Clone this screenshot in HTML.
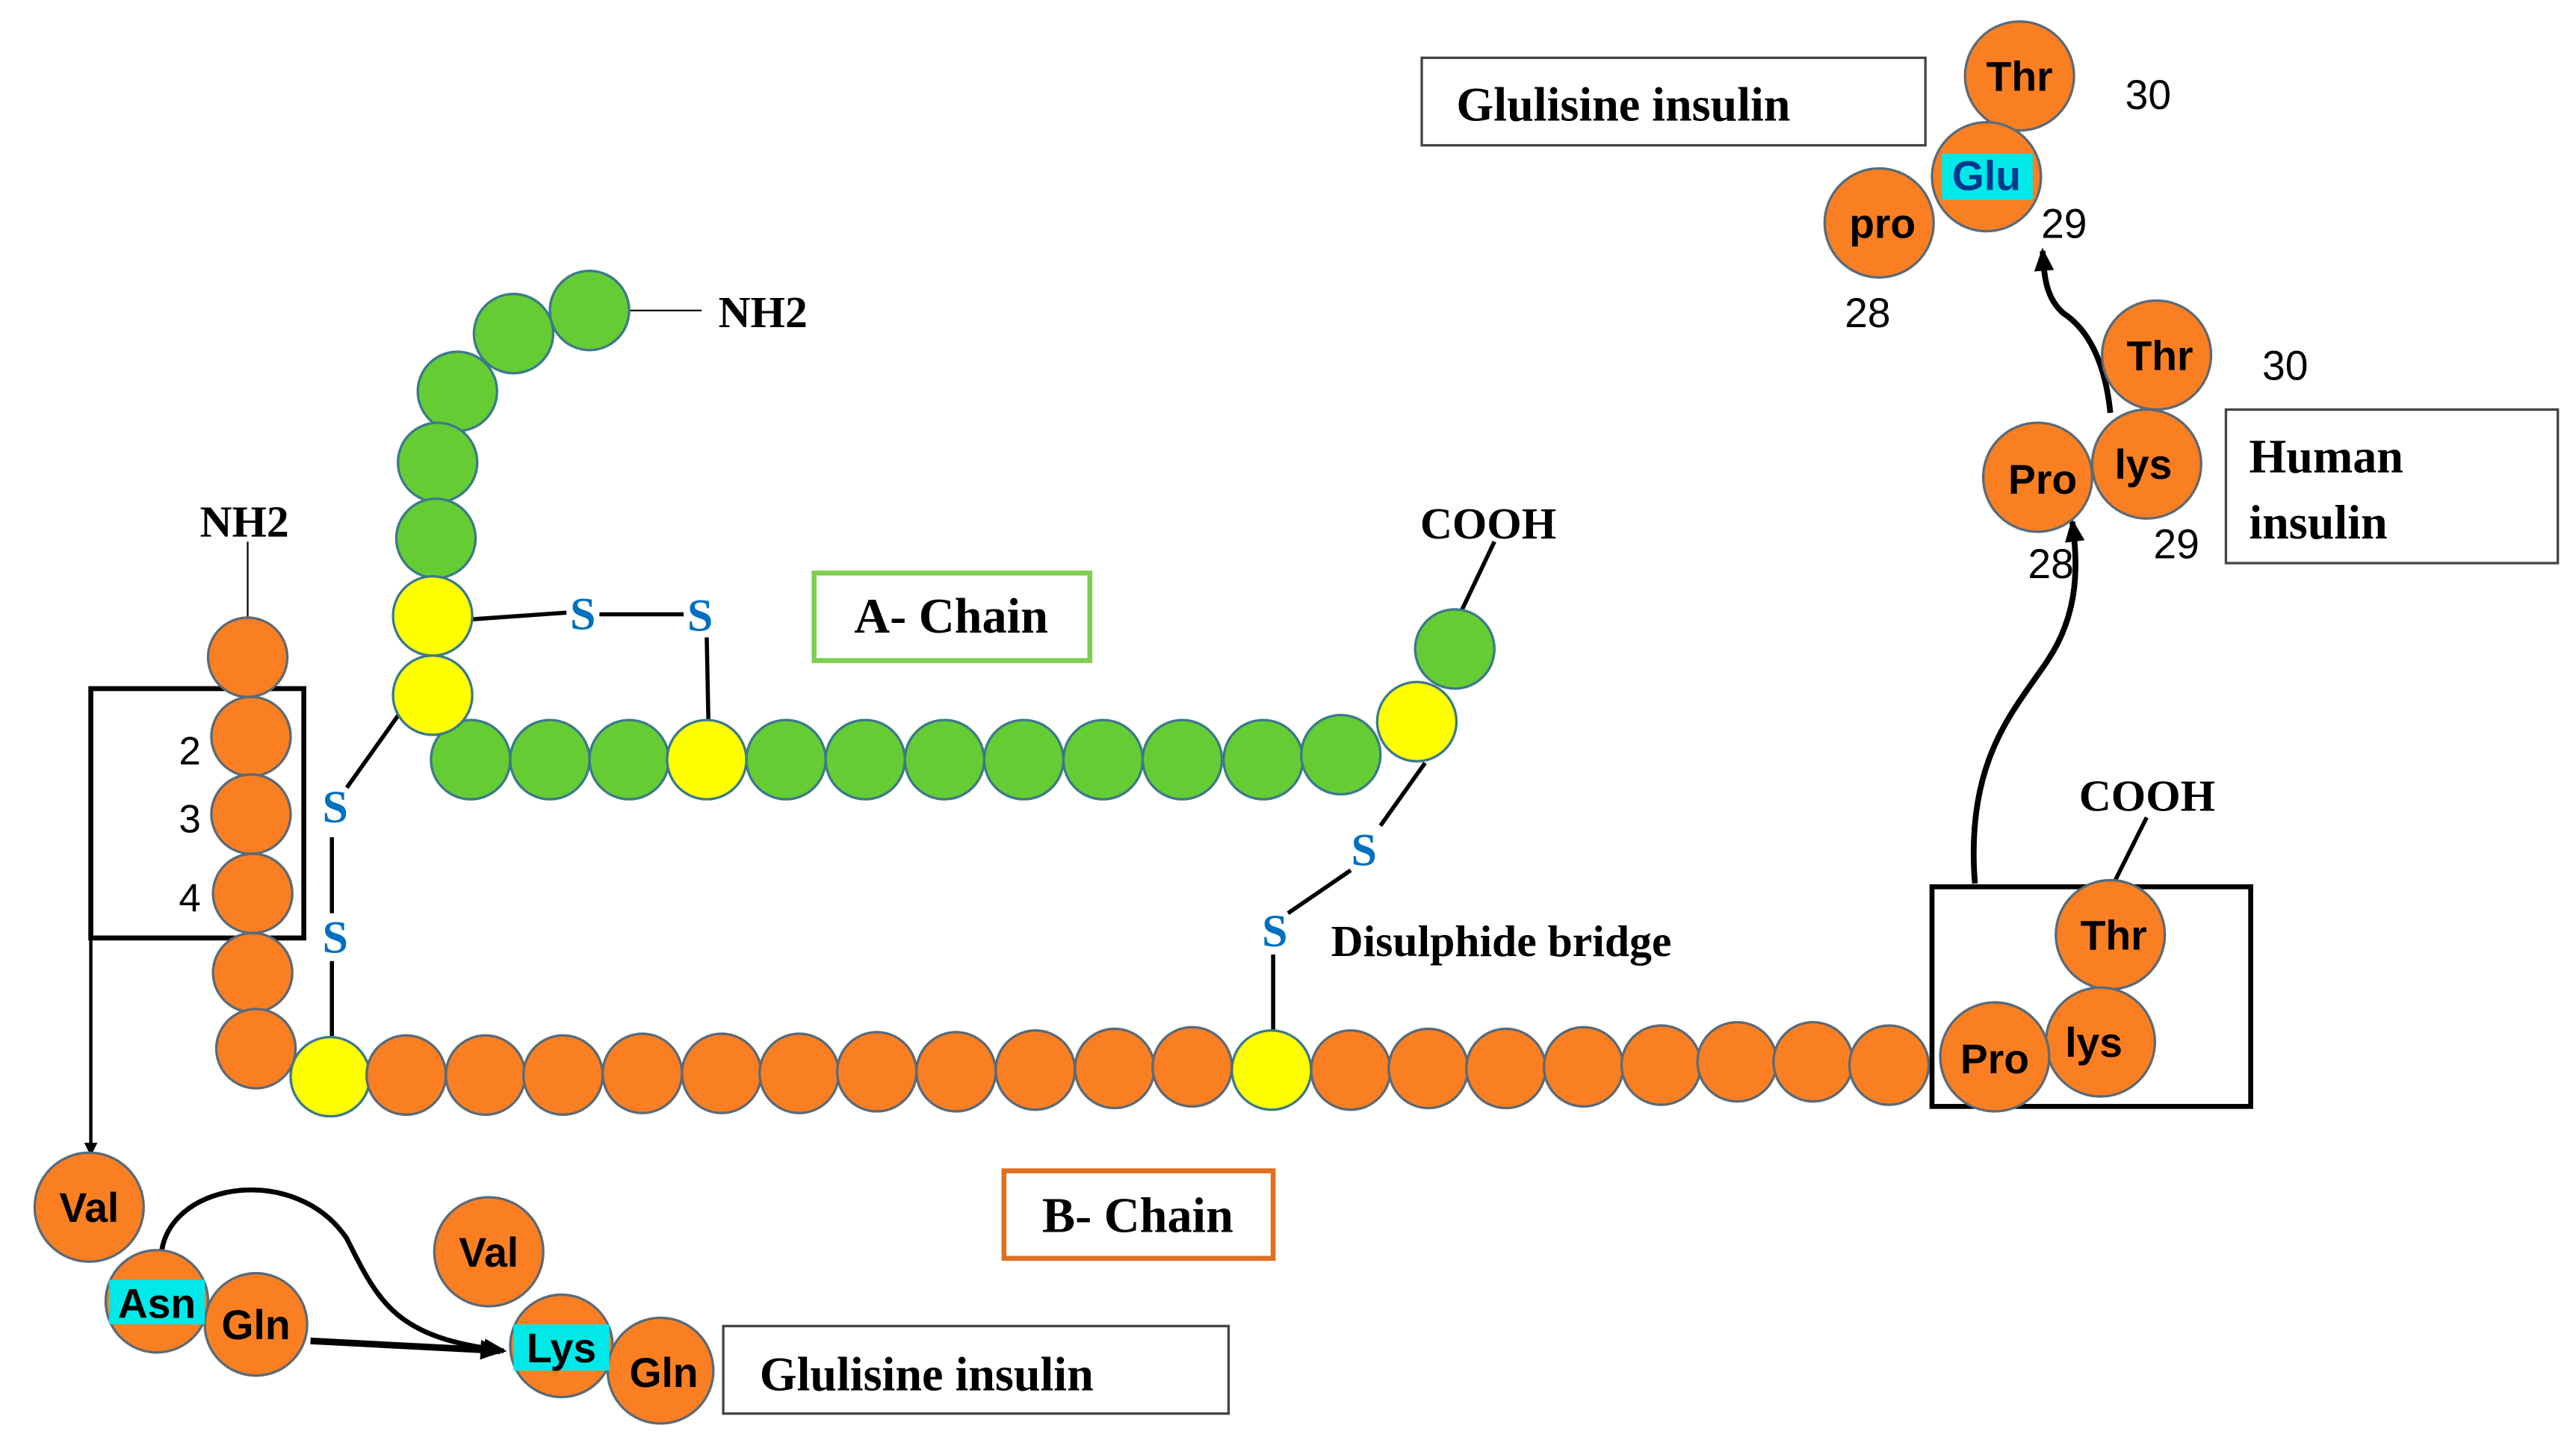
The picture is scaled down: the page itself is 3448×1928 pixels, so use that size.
<!DOCTYPE html>
<html><head><meta charset="utf-8"><style>html,body{margin:0;padding:0;background:#fff}svg{display:block}</style></head>
<body>
<svg width="3448" height="1928" viewBox="0 0 1560 872" preserveAspectRatio="none" xmlns="http://www.w3.org/2000/svg">
<defs><marker id="ah" markerWidth="8" markerHeight="8" refX="6" refY="4" orient="auto" markerUnits="userSpaceOnUse"><path d="M0,0 L8,4 L0,8 z" fill="#000"/></marker>
<marker id="ah2" markerWidth="14" markerHeight="12" refX="12" refY="6" orient="auto" markerUnits="userSpaceOnUse"><path d="M0,0 L14,6 L0,12 z" fill="#000"/></marker></defs>
<g stroke="#000" fill="none">
<line x1="380" y1="188" x2="425" y2="188" stroke-width="1"/>
<line x1="905" y1="328" x2="885" y2="370" stroke-width="2.5"/>
<line x1="286" y1="375" x2="343" y2="371" stroke-width="2.5"/>
<line x1="363" y1="372" x2="414" y2="372" stroke-width="2.5"/>
<line x1="428" y1="386" x2="429" y2="437" stroke-width="2.5"/>
<line x1="150" y1="328" x2="150" y2="375" stroke-width="1"/>
<line x1="242" y1="432" x2="210" y2="477" stroke-width="2.5"/>
<line x1="201" y1="507" x2="201" y2="553" stroke-width="2.5"/>
<line x1="201" y1="582" x2="201" y2="630" stroke-width="2.5"/>
<line x1="863" y1="462" x2="836" y2="500" stroke-width="2.5"/>
<line x1="818" y1="527" x2="780" y2="553" stroke-width="2.5"/>
<line x1="771" y1="578" x2="771" y2="624" stroke-width="2.5"/>
<line x1="1300" y1="495" x2="1280" y2="535" stroke-width="2.5"/>
<rect x="55" y="417" width="129" height="151" stroke-width="3"/>
<rect x="1170" y="537" width="193" height="133" stroke-width="3"/>
<rect x="493" y="347" width="167" height="53" stroke="#7ccf4f" stroke-width="3"/>
<rect x="608" y="709" width="163" height="53" stroke="#e07020" stroke-width="3"/>
<rect x="438" y="803" width="306" height="53" stroke="#444" stroke-width="1.5"/>
<rect x="861" y="35" width="305" height="53" stroke="#444" stroke-width="1.5"/>
<rect x="1348" y="248" width="201" height="93" stroke="#444" stroke-width="1.5"/>
<line x1="55" y1="568" x2="55" y2="698" stroke-width="2" marker-end="url(#ah)"/>
<path d="M98,757 C105,715 180,705 210,750 C230,790 240,810 305,818" stroke-width="3" marker-end="url(#ah2)"/>
<line x1="188" y1="812" x2="303" y2="818" stroke-width="4" marker-end="url(#ah2)"/>
<path d="M1196,535 C1190,460 1220,430 1240,400 C1260,370 1258,340 1255,316" stroke-width="3.5" marker-end="url(#ah2)"/>
<path d="M1278,250 C1275,220 1265,200 1250,190 C1238,180 1238,165 1237,152" stroke-width="3.5" marker-end="url(#ah2)"/>
</g>
<g stroke="#3b7a8a" stroke-width="1.5">
<g fill="#66cc33">
<circle cx="357" cy="188" r="24"/><circle cx="311" cy="202" r="24"/><circle cx="277" cy="237" r="24"/><circle cx="265" cy="280" r="24"/><circle cx="264" cy="326" r="24"/>
<circle cx="285" cy="460" r="24"/><circle cx="333" cy="460" r="24"/><circle cx="381" cy="460" r="24"/><circle cx="476" cy="460" r="24"/><circle cx="524" cy="460" r="24"/><circle cx="572" cy="460" r="24"/><circle cx="620" cy="460" r="24"/><circle cx="668" cy="460" r="24"/><circle cx="716" cy="460" r="24"/><circle cx="765" cy="460" r="24"/><circle cx="812" cy="457" r="24"/><circle cx="881" cy="393" r="24"/>
</g>
<g fill="#ffff00">
<circle cx="262" cy="373" r="24"/><circle cx="262" cy="421" r="24"/><circle cx="428" cy="460" r="24"/><circle cx="858" cy="437" r="24"/><circle cx="200" cy="652" r="24"/><circle cx="770" cy="648" r="24"/>
</g>
<g fill="#fa7f22" stroke="#5a6a78">
<circle cx="150" cy="398" r="24"/><circle cx="152" cy="446" r="24"/><circle cx="152" cy="493" r="24"/><circle cx="153" cy="541" r="24"/><circle cx="153" cy="589" r="24"/><circle cx="155" cy="635" r="24"/>
<circle cx="246" cy="651" r="24"/><circle cx="294" cy="651" r="24"/><circle cx="341" cy="651" r="24"/><circle cx="389" cy="650" r="24"/><circle cx="437" cy="650" r="24"/><circle cx="484" cy="650" r="24"/><circle cx="531" cy="649" r="24"/><circle cx="579" cy="649" r="24"/><circle cx="627" cy="648" r="24"/><circle cx="675" cy="647" r="24"/><circle cx="722" cy="646" r="24"/>
<circle cx="818" cy="648" r="24"/><circle cx="865" cy="647" r="24"/><circle cx="912" cy="647" r="24"/><circle cx="959" cy="646" r="24"/><circle cx="1006" cy="645" r="24"/><circle cx="1052" cy="643" r="24"/><circle cx="1098" cy="643" r="24"/><circle cx="1144" cy="645" r="24"/>
<circle cx="1278" cy="566" r="33"/><circle cx="1272" cy="631" r="33"/><circle cx="1208" cy="640" r="33"/>
<circle cx="54" cy="731" r="33"/><circle cx="95" cy="788" r="31"/><circle cx="155" cy="802" r="31"/><circle cx="296" cy="758" r="33"/><circle cx="340" cy="815" r="31"/><circle cx="400" cy="830" r="32"/>
<circle cx="1306" cy="215" r="33"/><circle cx="1300" cy="281" r="33"/><circle cx="1234" cy="289" r="33"/>
<circle cx="1223" cy="46" r="33"/><circle cx="1203" cy="107" r="33"/><circle cx="1138" cy="135" r="33"/>
</g>
</g>
<rect x="66" y="775" width="58" height="27" fill="#00e8e8"/>
<rect x="311" y="802" width="58" height="28" fill="#00e8e8"/>
<rect x="1176" y="93" width="55" height="28" fill="#00e8e8"/>
<g font-family="Liberation Serif, serif" font-weight="bold" fill="#000">
<text x="435" y="198" font-size="27">NH2</text>
<text x="121" y="325" font-size="27">NH2</text>
<text x="860" y="326" font-size="27">COOH</text>
<text x="1259" y="491" font-size="27">COOH</text>
<text x="576" y="383" font-size="30" text-anchor="middle">A- Chain</text>
<text x="689" y="746" font-size="30" text-anchor="middle">B- Chain</text>
<text x="806" y="579" font-size="27">Disulphide bridge</text>
<text x="460" y="842" font-size="29">Glulisine insulin</text>
<text x="882" y="73" font-size="29">Glulisine insulin</text>
<text x="1362" y="286" font-size="29">Human</text>
<text x="1362" y="326" font-size="29">insulin</text>
</g>
<g font-family="Liberation Serif, serif" font-weight="bold" fill="#0070c0" font-size="28" text-anchor="middle">
<text x="353" y="381">S</text><text x="424" y="382">S</text><text x="203" y="498">S</text><text x="203" y="577">S</text><text x="826" y="524">S</text><text x="772" y="573">S</text>
</g>
<g font-family="Liberation Sans, sans-serif" fill="#000" font-size="24">
<text x="115" y="463" text-anchor="middle">2</text><text x="115" y="504" text-anchor="middle">3</text><text x="115" y="552" text-anchor="middle">4</text>
<text x="1287" y="66" font-size="25">30</text><text x="1250" y="144" font-size="25" text-anchor="middle">29</text><text x="1131" y="198" font-size="25" text-anchor="middle">28</text>
<text x="1370" y="230" font-size="25">30</text><text x="1242" y="350" font-size="25" text-anchor="middle">28</text><text x="1318" y="338" font-size="25" text-anchor="middle">29</text>
</g>
<g font-family="Liberation Sans, sans-serif" font-weight="bold" fill="#000" font-size="25" text-anchor="middle">
<text x="1280" y="575">Thr</text><text x="1268" y="640">lys</text><text x="1208" y="650">Pro</text>
<text x="54" y="740">Val</text><text x="95" y="798">Asn</text><text x="155" y="811">Gln</text><text x="296" y="767">Val</text><text x="340" y="825">Lys</text><text x="402" y="840">Gln</text>
<text x="1308" y="224">Thr</text><text x="1298" y="290">lys</text><text x="1237" y="299">Pro</text>
<text x="1223" y="55">Thr</text><text x="1203" y="115" fill="#003a8c">Glu</text><text x="1140" y="144">pro</text>
</g>
</svg>
</body></html>
